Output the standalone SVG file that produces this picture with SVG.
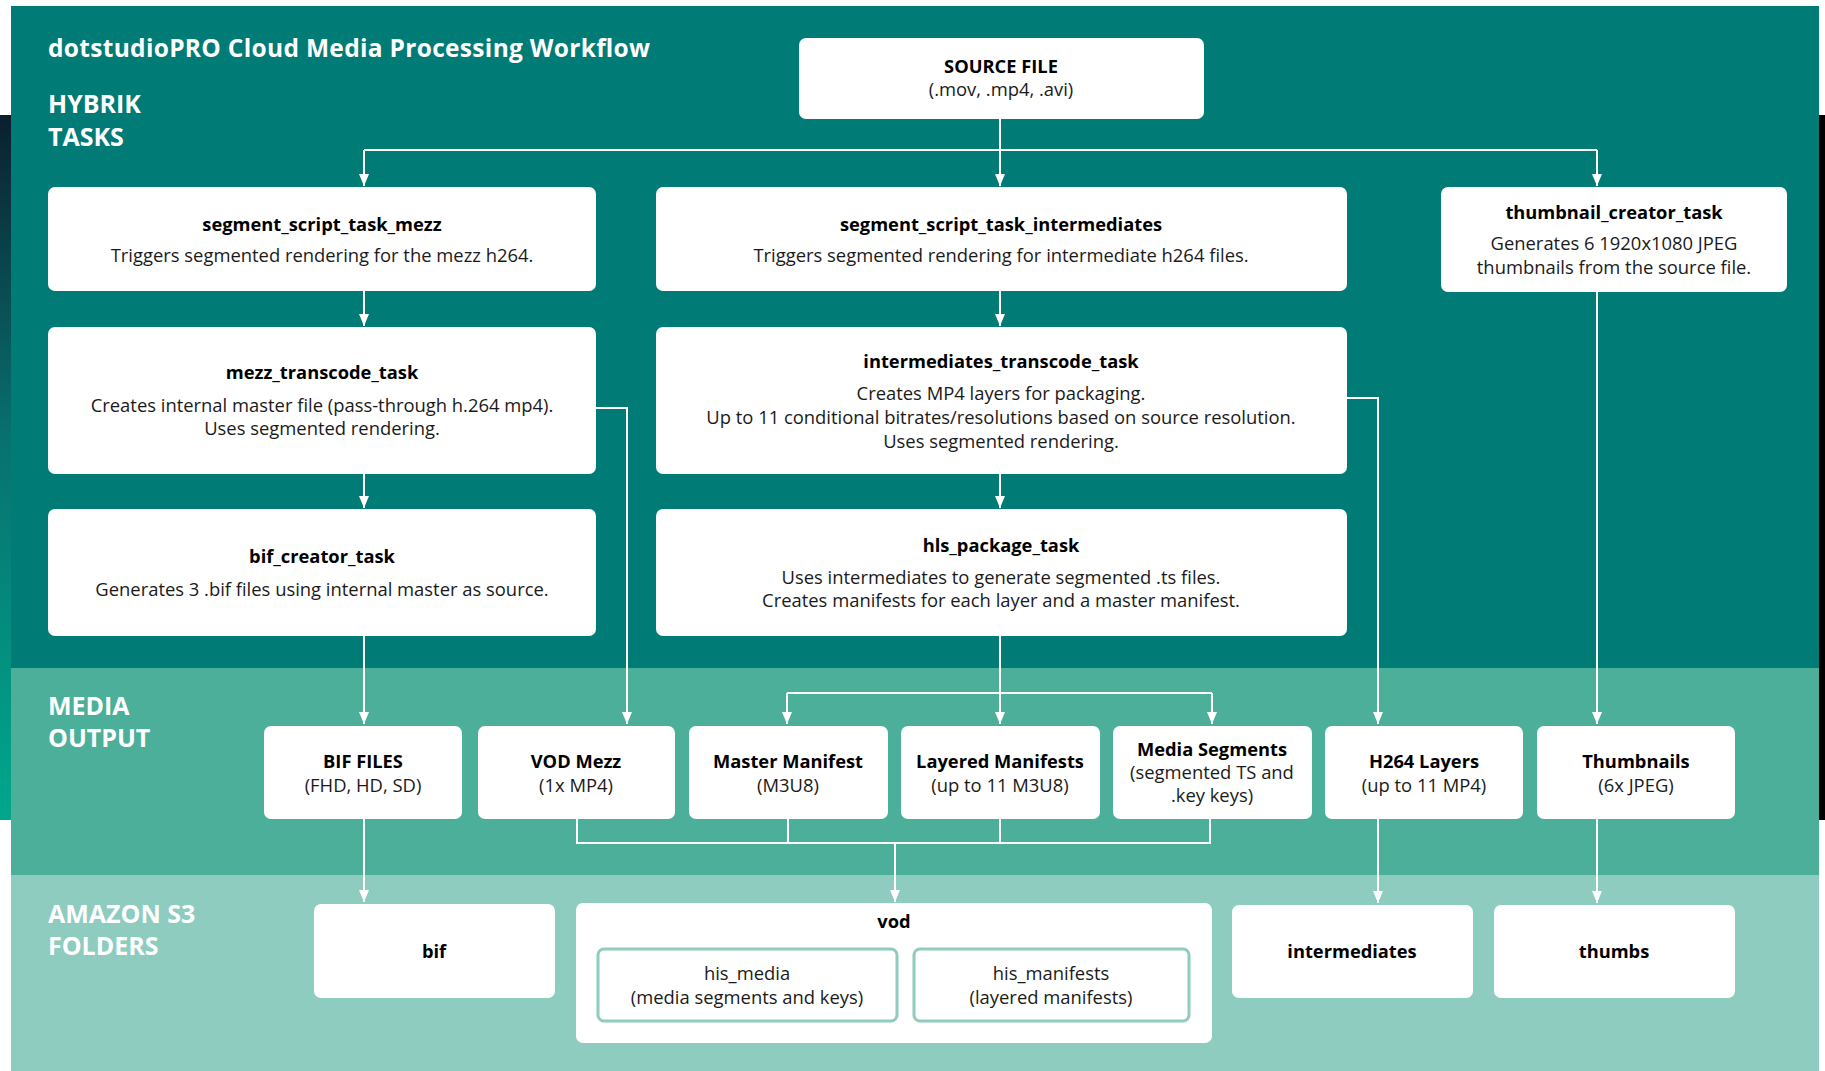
<svg xmlns="http://www.w3.org/2000/svg" width="1825" height="1071" viewBox="0 0 1825 1071">
<defs>
<linearGradient id="lstrip" x1="0" y1="0" x2="0" y2="1">
<stop offset="0" stop-color="#0B1F2E"/>
<stop offset="0.45" stop-color="#08706F"/>
<stop offset="1" stop-color="#00A88C"/>
</linearGradient>
<marker id="ah" viewBox="0 0 12 10" refX="12" refY="5" markerWidth="12" markerHeight="10" markerUnits="userSpaceOnUse" orient="auto">
<path d="M0,0 L12,5 L0,10 Z" fill="#fff"/>
</marker>
<style>
.box{fill:#fff}
.sub{fill:none;stroke:#8DCCBF;stroke-width:3}
.t{font-family:"Open Sans","Liberation Sans",sans-serif;font-weight:700;font-size:18.3px;fill:#000;text-anchor:middle}
.d{font-family:"Open Sans","Liberation Sans",sans-serif;font-weight:400;font-size:18.4px;fill:#1a1a1a;text-anchor:middle}
.h{font-family:"Open Sans","Liberation Sans",sans-serif;font-weight:700;font-size:25px;fill:#fff}
.c{fill:none;stroke:#fff;stroke-width:2}
.a{fill:none;stroke:#fff;stroke-width:2;marker-end:url(#ah)}
</style>
</defs>
<rect width="1825" height="1071" fill="#fff"/>
<rect x="0" y="115" width="11" height="705" fill="url(#lstrip)"/>
<rect x="1819" y="115" width="6" height="705" fill="#000"/>
<rect x="11" y="6" width="1808" height="662" fill="#007B76"/>
<rect x="11" y="668" width="1808" height="207" fill="#4BAF99"/>
<rect x="11" y="875" width="1808" height="196" fill="#8DCCBF"/>

<g id="labels">
<text class="h" x="48" y="57" textLength="602" lengthAdjust="spacing" style="font-size:24.5px">dotstudioPRO Cloud Media Processing Workflow</text>
<text class="h" x="48" y="113">HYBRIK</text>
<text class="h" x="48" y="146">TASKS</text>
<text class="h" x="48" y="715">MEDIA</text>
<text class="h" x="48" y="747">OUTPUT</text>
<text class="h" x="48" y="923">AMAZON S3</text>
<text class="h" x="48" y="955">FOLDERS</text>
</g>

<g id="connectors">
<path class="a" d="M1000,119 V186"/>
<path class="a" d="M364,150 V186"/>
<path class="c" d="M364,150 H1597"/>
<path class="a" d="M1597,150 V186"/>
<path class="a" d="M364,291 V326"/>
<path class="a" d="M1000,291 V326"/>
<path class="a" d="M364,474 V508"/>
<path class="a" d="M1000,474 V508"/>
<path class="a" d="M364,636 V724"/>
<path class="a" d="M596,408 H627 V724"/>
<path class="a" d="M1347,398 H1378 V724"/>
<path class="a" d="M1597,292 V724"/>
<path class="a" d="M1000,636 V724"/>
<path class="c" d="M787,693 H1212"/>
<path class="a" d="M787,693 V724"/>
<path class="a" d="M1212,693 V724"/>
<path class="c" d="M577,819 V843 H1210 V819"/>
<path class="c" d="M788,819 V843"/>
<path class="c" d="M1000,819 V843"/>
<path class="a" d="M895,843 V902"/>
<path class="a" d="M364,819 V902"/>
<path class="a" d="M1378,819 V903"/>
<path class="a" d="M1597,819 V903"/>
</g>

<g id="source-file">
<rect class="box" x="799" y="38" width="405" height="81" rx="7"/>
<text class="t" x="1001" y="73">SOURCE FILE</text>
<text class="d" x="1001" y="96">(.mov, .mp4, .avi)</text>
</g>

<g id="segment-script-task-mezz">
<rect class="box" x="48" y="187" width="548" height="104" rx="7"/>
<text class="t" x="322" y="231">segment_script_task_mezz</text>
<text class="d" x="322" y="262">Triggers segmented rendering for the mezz h264.</text>
</g>
<g id="segment-script-task-intermediates">
<rect class="box" x="656" y="187" width="691" height="104" rx="7"/>
<text class="t" x="1001" y="231">segment_script_task_intermediates</text>
<text class="d" x="1001" y="262">Triggers segmented rendering for intermediate h264 files.</text>
</g>
<g id="thumbnail-creator-task">
<rect class="box" x="1441" y="187" width="346" height="105" rx="7"/>
<text class="t" x="1614" y="219">thumbnail_creator_task</text>
<text class="d" x="1614" y="250">Generates 6 1920x1080 JPEG</text>
<text class="d" x="1614" y="274">thumbnails from the source file.</text>
</g>
<g id="mezz-transcode-task">
<rect class="box" x="48" y="327" width="548" height="147" rx="7"/>
<text class="t" x="322" y="379">mezz_transcode_task</text>
<text class="d" x="322" y="412">Creates internal master file (pass-through h.264 mp4).</text>
<text class="d" x="322" y="435">Uses segmented rendering.</text>
</g>
<g id="intermediates-transcode-task">
<rect class="box" x="656" y="327" width="691" height="147" rx="7"/>
<text class="t" x="1001" y="368">intermediates_transcode_task</text>
<text class="d" x="1001" y="400">Creates MP4 layers for packaging.</text>
<text class="d" x="1001" y="424">Up to 11 conditional bitrates/resolutions based on source resolution.</text>
<text class="d" x="1001" y="448">Uses segmented rendering.</text>
</g>
<g id="bif-creator-task">
<rect class="box" x="48" y="509" width="548" height="127" rx="7"/>
<text class="t" x="322" y="563">bif_creator_task</text>
<text class="d" x="322" y="596">Generates 3 .bif files using internal master as source.</text>
</g>
<g id="hls-package-task">
<rect class="box" x="656" y="509" width="691" height="127" rx="7"/>
<text class="t" x="1001" y="552">hls_package_task</text>
<text class="d" x="1001" y="584">Uses intermediates to generate segmented .ts files.</text>
<text class="d" x="1001" y="607">Creates manifests for each layer and a master manifest.</text>
</g>

<g id="bif-files">
<rect class="box" x="264" y="726" width="198" height="93" rx="7"/>
<text class="t" x="363" y="768">BIF FILES</text>
<text class="d" x="363" y="792">(FHD, HD, SD)</text>
</g>
<g id="vod-mezz">
<rect class="box" x="478" y="726" width="197" height="93" rx="7"/>
<text class="t" x="576" y="768">VOD Mezz</text>
<text class="d" x="576" y="792">(1x MP4)</text>
</g>
<g id="master-manifest">
<rect class="box" x="689" y="726" width="199" height="93" rx="7"/>
<text class="t" x="788" y="768">Master Manifest</text>
<text class="d" x="788" y="792">(M3U8)</text>
</g>
<g id="layered-manifests">
<rect class="box" x="901" y="726" width="199" height="93" rx="7"/>
<text class="t" x="1000" y="768">Layered Manifests</text>
<text class="d" x="1000" y="792">(up to 11 M3U8)</text>
</g>
<g id="media-segments">
<rect class="box" x="1113" y="726" width="199" height="93" rx="7"/>
<text class="t" x="1212" y="756">Media Segments</text>
<text class="d" x="1212" y="779">(segmented TS and</text>
<text class="d" x="1212" y="802">.key keys)</text>
</g>
<g id="h264-layers">
<rect class="box" x="1325" y="726" width="198" height="93" rx="7"/>
<text class="t" x="1424" y="768">H264 Layers</text>
<text class="d" x="1424" y="792">(up to 11 MP4)</text>
</g>
<g id="thumbnails">
<rect class="box" x="1537" y="726" width="198" height="93" rx="7"/>
<text class="t" x="1636" y="768">Thumbnails</text>
<text class="d" x="1636" y="792">(6x JPEG)</text>
</g>

<g id="s3-bif">
<rect class="box" x="314" y="904" width="241" height="94" rx="7"/>
<text class="t" x="434" y="958">bif</text>
</g>
<g id="s3-vod">
<rect class="box" x="576" y="903" width="636" height="140" rx="7"/>
<text class="t" x="894" y="928">vod</text>
<g id="s3-his-media">
<rect class="sub" x="598" y="949" width="299" height="72" rx="6"/>
<text class="d" x="747" y="980">his_media</text>
<text class="d" x="747" y="1004">(media segments and keys)</text>
</g>
<g id="s3-his-manifests">
<rect class="sub" x="914" y="949" width="275" height="72" rx="6"/>
<text class="d" x="1051" y="980">his_manifests</text>
<text class="d" x="1051" y="1004">(layered manifests)</text>
</g>
</g>
<g id="s3-intermediates">
<rect class="box" x="1232" y="905" width="241" height="93" rx="7"/>
<text class="t" x="1352" y="958">intermediates</text>
</g>
<g id="s3-thumbs">
<rect class="box" x="1494" y="905" width="241" height="93" rx="7"/>
<text class="t" x="1614" y="958">thumbs</text>
</g>
</svg>
